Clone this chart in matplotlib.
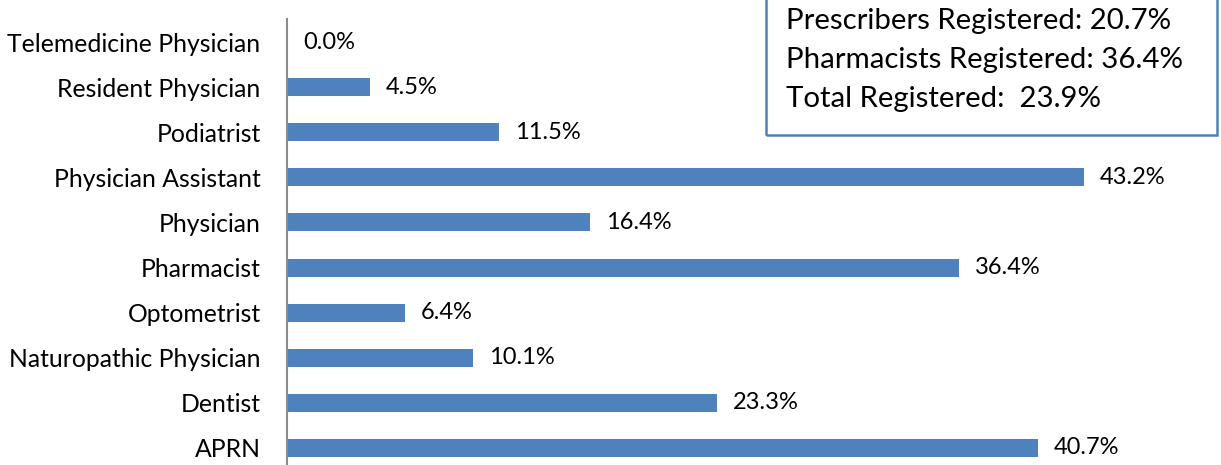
import matplotlib
matplotlib.use("Agg")
import matplotlib.pyplot as plt

categories = ["Telemedicine Physician", "Resident Physician", "Podiatrist",
              "Physician Assistant", "Physician", "Pharmacist", "Optometrist",
              "Naturopathic Physician", "Dentist", "APRN"]
values = [0.0, 4.5, 11.5, 43.2, 16.4, 36.4, 6.4, 10.1, 23.3, 40.7]
summary_lines = ["Prescribers Registered: 20.7%",
                 "Pharmacists Registered: 36.4%",
                 "Total Registered:  23.9%"]

plt.rcParams['font.family'] = ['Lato', 'DejaVu Sans']
W, H = 1221, 465
fig = plt.figure(figsize=(W / 100, H / 100), dpi=100)
left_px = 287
px_per_unit = (1084 - 287) / 43.2
xmax = 50
top_px, bot_px = 19.5, 470.5
ax = fig.add_axes([left_px / W, 1 - bot_px / H, xmax * px_per_unit / W, (bot_px - top_px) / H])

y = list(range(len(categories)))
ax.barh(y, values, height=0.4, color="#4F81BD")
ax.set_ylim(len(categories) - 0.5, -0.5)
ax.set_xlim(0, xmax)
ax.set_yticks(y)
ax.set_yticklabels(categories, fontsize=17.8)
ax.tick_params(axis='y', length=0, pad=19)
ax.set_xticks([])
for s in ['top', 'right', 'bottom']:
    ax.spines[s].set_visible(False)
ax.spines['left'].set_color('#8c8c8c')
ax.spines['left'].set_linewidth(1.5)

for yi, v in zip(y, values):
    ax.annotate(f"{v:.1f}%", (v, yi), xytext=(11.5, 0), textcoords='offset points',
                va='center', ha='left', fontsize=17)

# summary box
from matplotlib.patches import Rectangle
box = Rectangle((766 / W, 1 - 135 / H), (1217 - 766) / W, 135 / H + 0.02,
                transform=fig.transFigure, fill=False, edgecolor="#4F81BD",
                linewidth=1.8, clip_on=False)
fig.patches.append(box)
for i, line in enumerate(summary_lines):
    fig.text(786 / W, 1 - (21 + 39 * i) / H, line, fontsize=21.2, va='center', ha='left')

fig.savefig("out.png", dpi=100)
